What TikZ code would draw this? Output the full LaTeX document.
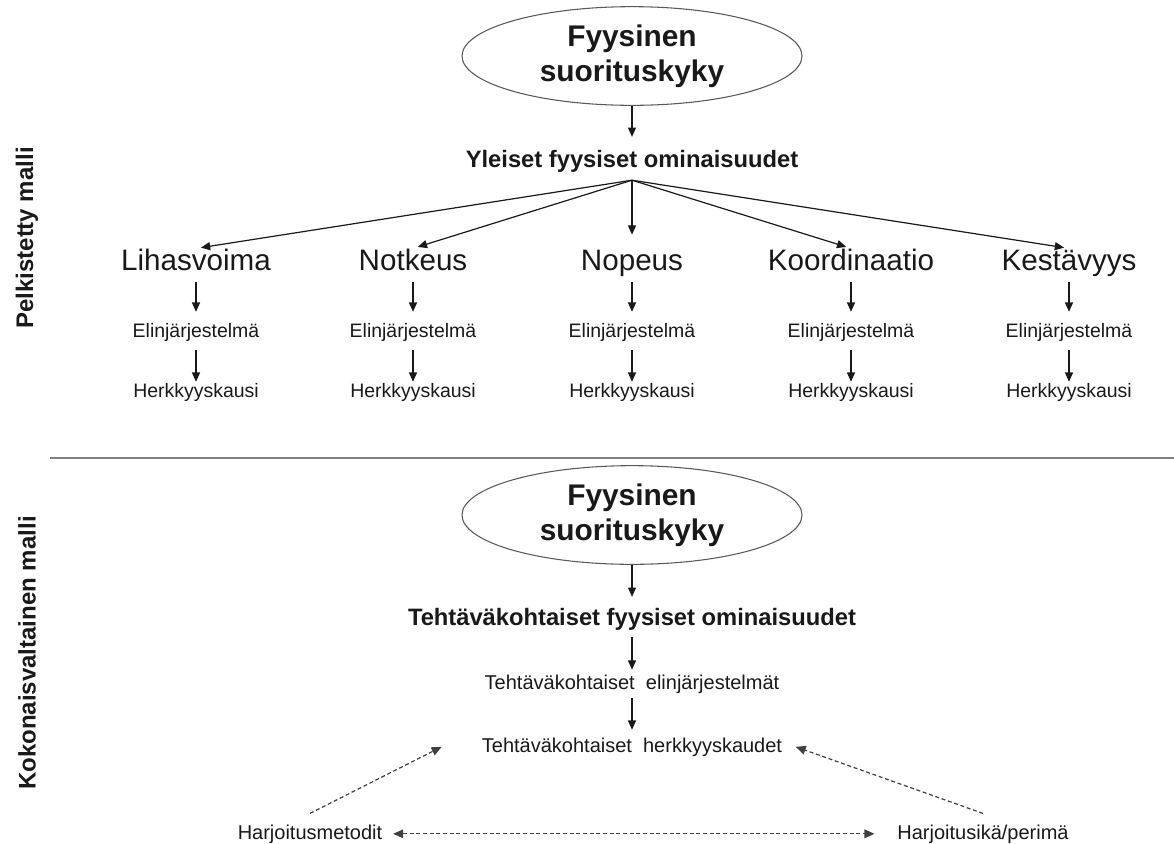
\documentclass[tikz,border=0pt]{standalone}
\usepackage{fontspec}
\setmainfont{Liberation Sans}
\usepackage{tikz}
\usetikzlibrary{arrows.meta,shapes.geometric}

\begin{document}
\begin{tikzpicture}[x=0.75pt,y=-0.75pt,
  every node/.style={inner sep=0pt,text=black!90},
  >={Triangle[length=7pt,width=6pt]},
  oval/.style={ellipse,draw=black!65,line width=0.8pt,minimum width=255pt,minimum height=74pt,
    align=center,font={\fontsize{22.4}{26.3}\selectfont\bfseries}},
  head/.style={anchor=base,font={\fontsize{17.8}{21}\selectfont\bfseries}},
  quality/.style={anchor=base,font={\fontsize{22.2}{26}\selectfont},text height=16pt,text depth=5pt},
  sub/.style={anchor=base,font={\fontsize{14.6}{17}\selectfont},text height=10.7pt,text depth=3.1pt},
  task/.style={anchor=base,font={\fontsize{15}{18}\selectfont},text height=11pt,text depth=3.2pt},
  side/.style={rotate=90,font={\fontsize{18}{21}\selectfont\bfseries}},
  arr/.style={->,line width=0.9pt,draw=black!90},
  dasharr/.style={-{Triangle[length=7.5pt,width=6.5pt]},line width=0.9pt,draw=black!75,dash pattern=on 3pt off 2pt},
  divider/.style={draw=black!50,line width=1.6pt}]
\useasboundingbox (0,0) rectangle (1174,843);
% pelkistetty malli
\node[side] (pel) at (27,238) {Pelkistetty malli};
\node[oval] (top) at (632,56) {Fyysinen\\suorituskyky};
\node[head] (yl) at (632,167) {Yleiset fyysiset ominaisuudet};
\coordinate (fan) at ([yshift=-6pt]yl.south);
\draw[arr,shorten >=9.5pt] (top.south) -- (yl.north);
\node[quality] (lih) at (196,270) {Lihasvoima};
\node[quality] (not) at (413,270) {Notkeus};
\node[quality] (nop) at (632,270) {Nopeus};
\node[quality] (kor) at (851,270) {Koordinaatio};
\node[quality] (kes) at (1069,270) {Kestävyys};
\draw[arr,shorten >=3.7pt] (fan) -- (lih.north);
\draw[arr,shorten >=3.7pt] (fan) -- (not.north);
\draw[arr,shorten >=10.3pt] (fan) -- (nop.north);
\draw[arr,shorten >=3.7pt] (fan) -- (kor.north);
\draw[arr,shorten >=3.7pt] (fan) -- (kes.north);
\node[sub] (el1) at (196,337) {Elinjärjestelmä};
\node[sub] (el2) at (413,337) {Elinjärjestelmä};
\node[sub] (el3) at (632,337) {Elinjärjestelmä};
\node[sub] (el4) at (851,337) {Elinjärjestelmä};
\node[sub] (el5) at (1069,337) {Elinjärjestelmä};
\node[sub] (hk1) at (196,397) {Herkkyyskausi};
\node[sub] (hk2) at (413,397) {Herkkyyskausi};
\node[sub] (hk3) at (632,397) {Herkkyyskausi};
\node[sub] (hk4) at (851,397) {Herkkyyskausi};
\node[sub] (hk5) at (1069,397) {Herkkyyskausi};
\draw[arr,shorten <=4pt,shorten >=8pt] (lih.south) -- (el1.north);
\draw[arr,shorten <=4pt,shorten >=8pt] (not.south) -- (el2.north);
\draw[arr,shorten <=4pt,shorten >=8pt] (nop.south) -- (el3.north);
\draw[arr,shorten <=4pt,shorten >=8pt] (kor.south) -- (el4.north);
\draw[arr,shorten <=4pt,shorten >=8pt] (kes.south) -- (el5.north);
\draw[arr,shorten <=6.7pt,shorten >=0.5pt] (el1.south) -- (hk1.north);
\draw[arr,shorten <=6.7pt,shorten >=0.5pt] (el2.south) -- (hk2.north);
\draw[arr,shorten <=6.7pt,shorten >=0.5pt] (el3.south) -- (hk3.north);
\draw[arr,shorten <=6.7pt,shorten >=0.5pt] (el4.south) -- (hk4.north);
\draw[arr,shorten <=6.7pt,shorten >=0.5pt] (el5.south) -- (hk5.north);
\draw[divider] (50,458) -- (1174,458);
% kokonaisvaltainen malli
\node[side] (kok) at (27,653) {Kokonaisvaltainen malli};
\node[oval] (bot) at (632,515) {Fyysinen\\suorituskyky};
\node[head] (tf) at (632,625) {Tehtäväkohtaiset fyysiset ominaisuudet};
\node[task] (te) at (632,689) {Tehtäväkohtaiset\ \ elinjärjestelmät};
\node[task] (th) at (632,752) {Tehtäväkohtaiset\ \ herkkyyskaudet};
\draw[arr,shorten >=8pt] (bot.south) -- (tf.north);
\draw[arr,shorten <=5pt,shorten >=3.3pt] (tf.south) -- (te.north);
\draw[arr,shorten <=3.6pt,shorten >=5.5pt] (te.south) -- (th.north);
\node[task,inner ysep=8pt,inner xsep=8pt] (hm) at (310,839) {Harjoitusmetodit};
\node[task,inner ysep=8pt,inner xsep=17pt] (hi) at (983,839) {Harjoitusikä/perimä};
\draw[dasharr] (hm.north) -- ([xshift=-30pt]th.west);
\draw[dasharr] (hi.north) -- ([xshift=10pt]th.east);
\draw[dasharr,{Triangle[length=7.5pt,width=6.5pt]}-{Triangle[length=7.5pt,width=6.5pt]}] (hm.east) -- (hi.west);
\end{tikzpicture}
\end{document}
